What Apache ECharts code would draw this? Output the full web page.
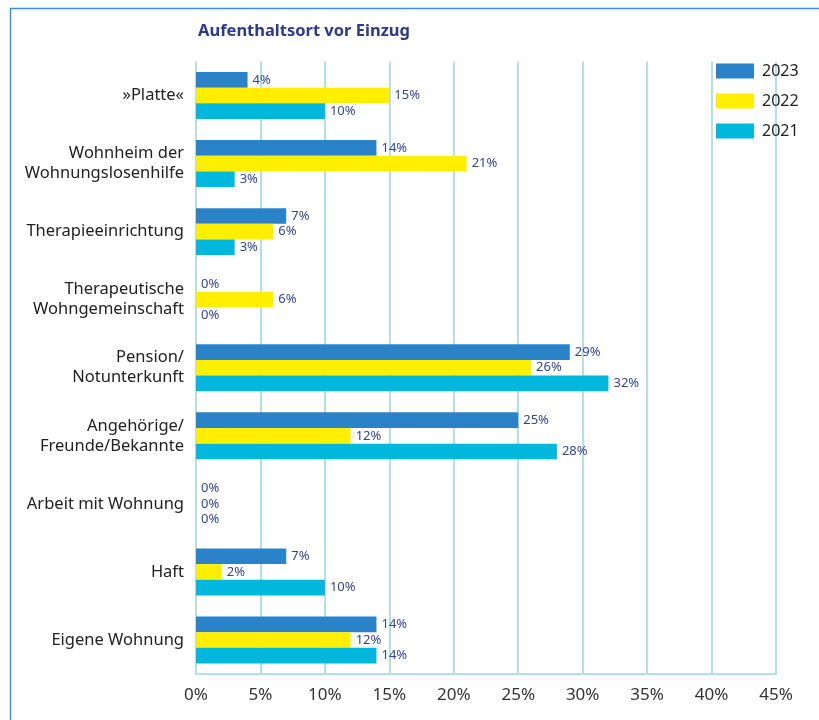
<!DOCTYPE html>
<html>
<head>
<meta charset="utf-8">
<script src="https://cdn.jsdelivr.net/npm/echarts@6/dist/echarts.min.js"></script>
<style>html,body{margin:0;padding:0;background:#fff;}#c{width:819px;height:720px;}</style>
</head>
<body>
<div id="c"></div>
<script>
const categories = ['»Platte«', 'Wohnheim der\nWohnungslosenhilfe', 'Therapieeinrichtung', 'Therapeutische\nWohngemeinschaft', 'Pension/\nNotunterkunft', 'Angehörige/\nFreunde/Bekannte', 'Arbeit mit Wohnung', 'Haft', 'Eigene Wohnung'];
const seriesNames = ['2023', '2022', '2021'];
const values2023 = [4, 14, 7, 0, 29, 25, 0, 7, 14];
const values2022 = [15, 21, 6, 6, 26, 12, 0, 2, 12];
const values2021 = [10, 3, 3, 0, 32, 28, 0, 10, 14];
const tickValues = [0, 5, 10, 15, 20, 25, 30, 35, 40, 45];
const colors = ['#2a82c8', '#ffee00', '#00b8de'];
const allValues = [values2023, values2022, values2021];

const chart = echarts.init(document.getElementById('c'), null, {renderer: 'canvas'});
const font = '"Noto Sans", sans-serif';
chart.setOption({
  animation: false,
  title: {
    text: 'Aufenthaltsort vor Einzug',
    left: 193, top: 18,
    textStyle: {fontFamily: font, fontWeight: 'bold', fontSize: 16.5, color: '#2b3990'}
  },
  graphic: [{
    type: 'rect', shape: {x: 10.5, y: 8.5, width: 900, height: 800},
    style: {fill: 'none', stroke: '#3d8fd8', lineWidth: 1.5}, silent: true
  }],
  legend: {
    orient: 'vertical', left: 711, top: 58,
    itemWidth: 38, itemHeight: 15, itemGap: 14,
    icon: 'rect',
    textStyle: {fontFamily: font, fontSize: 16, color: '#222', padding: [0, 0, 0, 3]},
    data: seriesNames
  },
  grid: {left: 196, right: 43, top: 61.5, bottom: 46, containLabel: false},
  xAxis: {
    type: 'value', min: 0, max: 45, interval: 5,
    axisLine: {show: true, lineStyle: {color: '#b3e0e7', width: 2}},
    axisTick: {show: false},
    splitLine: {show: true, lineStyle: {color: '#b3e0e7', width: 2}},
    axisLabel: {formatter: v => tickValues.includes(v) ? v + '%' : '', fontFamily: font, fontSize: 17, color: '#333', margin: 13}
  },
  yAxis: {
    type: 'category', inverse: true, data: categories,
    axisLine: {show: false}, axisTick: {show: false},
    axisLabel: {fontFamily: font, fontSize: 16.5, color: '#222', lineHeight: 20, margin: 12}
  },
  series: seriesNames.map((n, i) => ({
    name: n, type: 'bar', data: allValues[i],
    barCategoryGap: '31%', barGap: '0%',
    itemStyle: {color: colors[i]},
    label: {show: true, position: 'right', distance: 5, formatter: '{c}%', fontFamily: font, fontSize: 13, color: '#33449c'}
  }))
});
</script>
</body>
</html>
